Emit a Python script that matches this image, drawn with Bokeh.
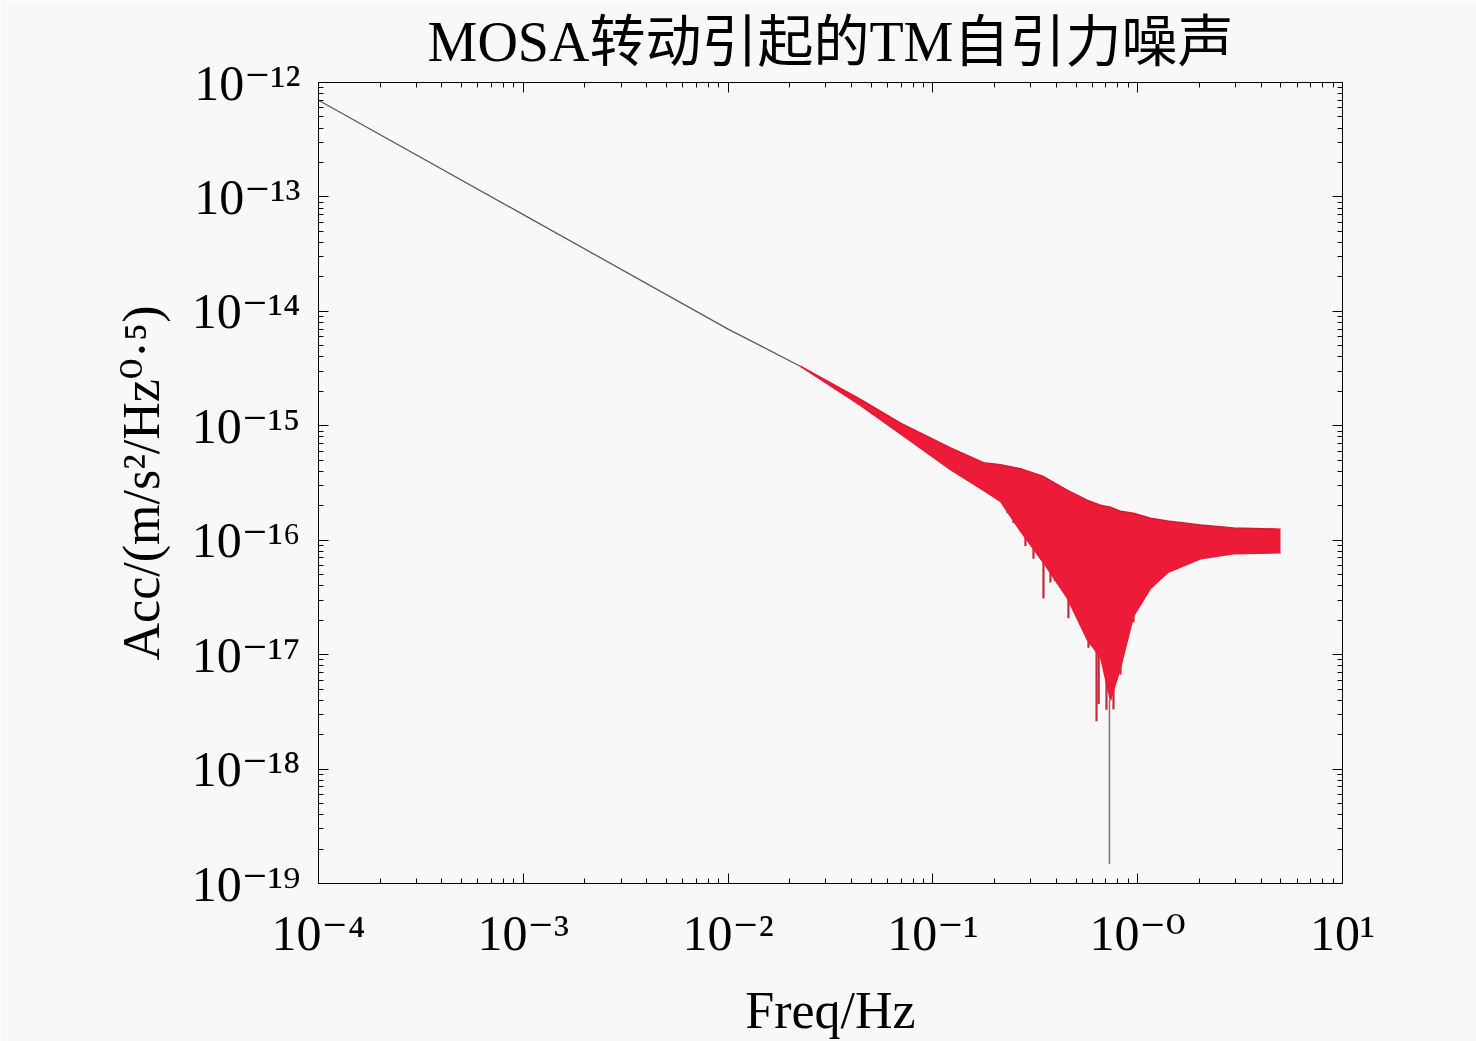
from bokeh.plotting import figure
from bokeh.models import LogAxis, FixedTicker, CustomJSTickFormatter, Range1d
from bokeh.embed import file_html
from bokeh.resources import INLINE

# ---------------- data ----------------
title_text = "MOSA转动引起的TM自引力噪声"
x_label = "Freq/Hz"
y_label = "Acc/(m/s²/Hz⁰·⁵)"

x_tick_exps = [-4, -3, -2, -1, 0, 1]
x_tick_labels = ["10⁻⁴", "10⁻³", "10⁻²", "10⁻¹", "10⁻⁰", "10¹"]
y_tick_exps = [-19, -18, -17, -16, -15, -14, -13, -12]
y_tick_labels = ["10⁻¹⁹", "10⁻¹⁸", "10⁻¹⁷", "10⁻¹⁶", "10⁻¹⁵", "10⁻¹⁴", "10⁻¹³", "10⁻¹²"]

# low-frequency single trace (Hz, m/s^2/Hz^0.5)
trend_freq = [1e-4, 1e-3, 1e-2, 0.0226]
trend_acc = [7.0e-13, 7.0e-14, 7.0e-15, 3.3e-15]

# oscillating band: upper / lower envelope
band_freq = [0.0226, 0.0443, 0.0695, 0.1219, 0.1767, 0.2138, 0.2678, 0.3467,
             0.4542, 0.5688, 0.6584, 0.7364, 0.8241, 0.9539, 1.155, 1.398,
             2.026, 2.937, 4.98]
band_upper = [3.3e-15, 1.70e-15, 1.055e-15, 6.41e-16, 4.76e-16, 4.57e-16, 4.22e-16, 3.60e-16,
              2.72e-16, 2.23e-16, 2.02e-16, 1.94e-16, 1.79e-16, 1.72e-16, 1.56e-16, 1.47e-16,
              1.36e-16, 1.28e-16, 1.25e-16]
band_lower = [3.3e-15, 1.51e-15, 8.48e-16, 4.14e-16, 2.72e-16, 2.19e-16, 1.20e-16, 6.36e-17,
              3.10e-17, 1.34e-17, 9.5e-18, 3.99e-18, 7.69e-18, 2.17e-17, 3.79e-17, 5.21e-17,
              6.89e-17, 7.61e-17, 7.76e-17]

# downward spikes below the band
spike_freq = [0.2313, 0.2475, 0.283, 0.3099, 0.3467, 0.375, 0.394, 0.4058, 0.459, 0.508,
              0.5752, 0.6295, 0.645, 0.704, 0.7617, 0.824, 0.8524, 0.9539]
spike_top = [2.5e-16, 2.2e-16, 1.5e-16, 1.0e-16, 7.0e-17, 6.0e-17, 5.5e-17, 5.0e-17, 3.5e-17, 2.5e-17,
             1.5e-17, 1.2e-17, 1.0e-17, 6.0e-18, 5.0e-18, 9.0e-18, 1.3e-17, 2.5e-17]
spike_low = [1.72e-16, 1.41e-16, 8.9e-17, 6.89e-17, 3.1e-17, 4.27e-17, 4.4e-17, 4.2e-17, 2.08e-17, 2.54e-17,
             1.15e-17, 2.62e-18, 3.7e-18, 3.3e-18, 3.33e-18, 6.7e-18, 1.06e-17, 1.92e-17]

# deepest notch
notch_freq = [0.728, 0.728]
notch_acc = [4.0e-18, 1.48e-19]

# ---------------- styling ----------------
BG = "#f8f8f8"
RED = "#ec1b38"
SERIF = "'Liberation Serif', 'DejaVu Serif', 'Noto Sans CJK SC'"

p = figure(width=1476, height=1041, x_axis_type="log", y_axis_type="log",
           x_range=Range1d(1e-4, 1e1), y_range=Range1d(1e-19, 1e-12),
           output_backend="svg", toolbar_location=None,
           min_border_left=318, min_border_right=134, min_border_top=82, min_border_bottom=150,
           background_fill_color=BG, border_fill_color=BG)

p.title.text = title_text
p.title.align = "center"
p.title.vertical_align = "top"
p.title.text_font = SERIF
p.title.text_font_size = "56px"
p.title.text_font_style = "normal"
p.title.text_color = "black"
p.title.offset = 0
p.title.standoff = 16

p.xgrid.visible = False
p.ygrid.visible = False
p.outline_line_color = "black"

# data glyphs
p.line(trend_freq, trend_acc, line_color="#5a5a5a", line_width=1.3)
p.segment(x0=spike_freq, y0=spike_top, x1=spike_freq, y1=spike_low, line_color="#c8283c", line_width=2.2)
p.varea(x=band_freq, y1=band_lower, y2=band_upper, fill_color=RED)
p.line(band_freq, band_upper, line_color="#d41a30", line_width=1.5)
p.line(band_freq, band_lower, line_color=RED, line_width=1.5)
p.line(notch_freq, notch_acc, line_color="#777777", line_width=1.5)


def minor_list(exps):
    out = []
    for e in exps[:-1]:
        for k in range(2, 10):
            out.append(k * 10.0 ** e)
    return out


x_major = [10.0 ** e for e in x_tick_exps]
y_major = [10.0 ** e for e in y_tick_exps]
x_ticker = FixedTicker(ticks=x_major, minor_ticks=minor_list(x_tick_exps))
y_ticker = FixedTicker(ticks=y_major, minor_ticks=minor_list(y_tick_exps))

code = "const e = Math.round(Math.log10(tick)); const i = exps.indexOf(e); return i >= 0 ? labels[i] : '';"
x_fmt = CustomJSTickFormatter(args=dict(exps=x_tick_exps, labels=x_tick_labels), code=code)
y_fmt = CustomJSTickFormatter(args=dict(exps=y_tick_exps, labels=y_tick_labels), code=code)
blank_fmt = CustomJSTickFormatter(code="return '';")

bottom_axis = p.below[0]
left_axis = p.left[0]
bottom_axis.ticker = x_ticker
left_axis.ticker = y_ticker
bottom_axis.formatter = x_fmt
left_axis.formatter = y_fmt
bottom_axis.axis_label = x_label
left_axis.axis_label = y_label

top_axis = LogAxis(ticker=x_ticker, formatter=blank_fmt)
right_axis = LogAxis(ticker=y_ticker, formatter=blank_fmt)
p.add_layout(top_axis, "above")
p.add_layout(right_axis, "right")

for ax in [bottom_axis, left_axis, top_axis, right_axis]:
    ax.major_tick_in = 10
    ax.major_tick_out = 0
    ax.minor_tick_in = 5
    ax.minor_tick_out = 0
    ax.axis_line_color = "black"
    ax.axis_line_width = 1
    ax.major_tick_line_color = "black"
    ax.minor_tick_line_color = "black"
    ax.major_label_text_font = SERIF
    ax.major_label_text_font_size = "50px"
    ax.major_label_text_color = "black"
    ax.axis_label_text_font = SERIF
    ax.axis_label_text_font_size = "52px"
    ax.axis_label_text_font_style = "normal"
    ax.axis_label_text_color = "black"

for ax in [top_axis, right_axis]:
    ax.major_label_text_font_size = "1px"
    ax.major_label_standoff = 0

bottom_axis.major_label_standoff = 21
bottom_axis.axis_label_standoff = 18
left_axis.major_label_standoff = 18
left_axis.axis_label_standoff = 19

open("out.html", "w").write(file_html(p, INLINE))
